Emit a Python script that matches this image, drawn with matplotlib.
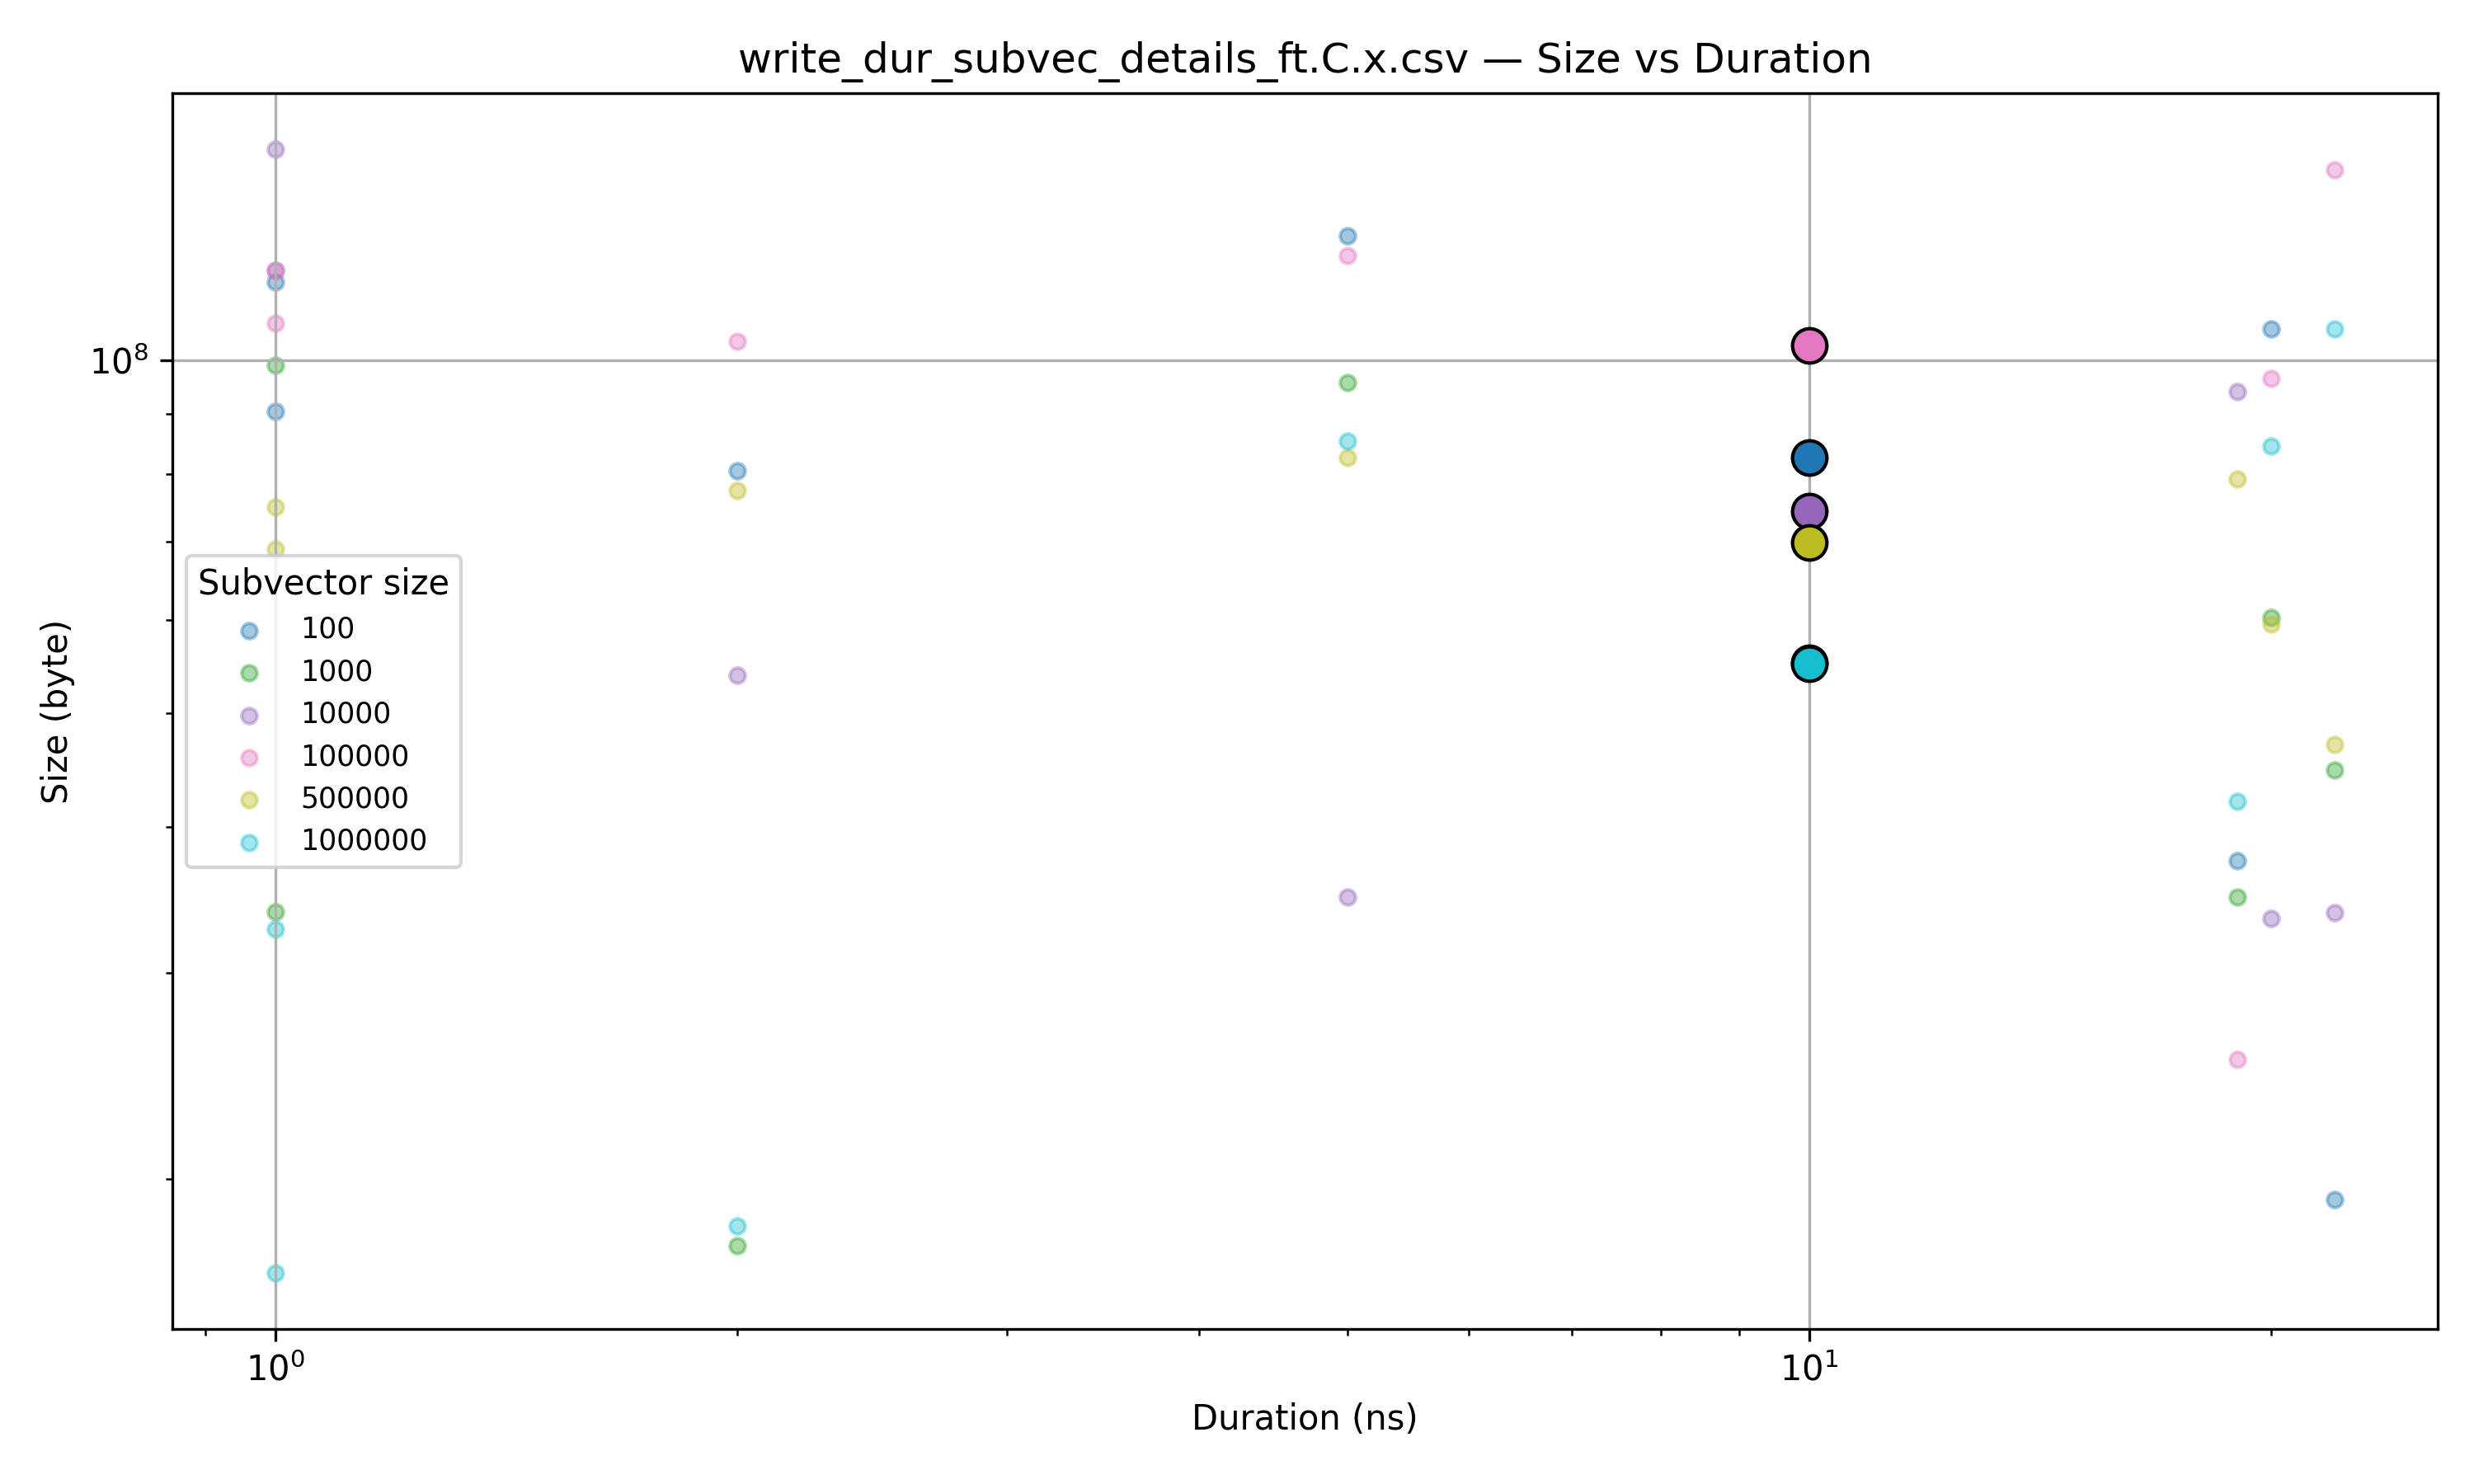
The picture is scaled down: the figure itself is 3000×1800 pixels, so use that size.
import numpy as np
import matplotlib

matplotlib.use('Agg')

import matplotlib.pyplot as plt

# durations (ns) are the same for every subvector size
duration = [1, 1, 2, 5, 19, 20, 22]

labels = ["100", "1000", "10000", "100000", "500000", "1000000"]

size_100 = [1.167e8, 0.905e8, 0.805e8, 1.2777e8, 0.3739e8, 1.0629e8, 0.1921e8]
size_1000 = [0.991e8, 0.3383e8, 0.1754e8, 0.9576e8, 0.3481e8, 0.6028e8, 0.4467e8]
size_10000 = [1.514e8, 1.194e8, 0.5389e8, 0.3485e8, 0.9409e8, 0.3338e8, 0.3379e8]
size_100000 = [1.194e8, 1.076e8, 1.038e8, 1.2283e8, 0.2531e8, 0.9645e8, 1.4546e8]
size_500000 = [0.749e8, 0.690e8, 0.7737e8, 0.8263e8, 0.7925e8, 0.5954e8, 0.4697e8]
size_1000000 = [0.3267e8, 0.1663e8, 0.1825e8, 0.8539e8, 0.4202e8, 0.8455e8, 1.0629e8]

sizes = [size_100, size_1000, size_10000, size_100000, size_500000, size_1000000]


def plot_size_vs_duration():
    fig = plt.figure(figsize=(10, 6), dpi=300)
    ax = fig.add_subplot(1, 1, 1)
    colors = plt.cm.tab10(np.linspace(0, 1, len(labels)))

    for lab, ys, c in zip(labels, sizes, colors):
        ax.scatter(duration, ys, s=20, color=c, alpha=0.4, label=lab)

    # group means
    for ys, c in zip(sizes, colors):
        ax.scatter(np.mean(duration), np.mean(ys), s=100, color=c,
                   edgecolors="black", linewidths=1, zorder=3)

    ax.set_xscale("log")
    ax.set_yscale("log")
    ax.grid(True)
    ax.set_title("write_dur_subvec_details_ft.C.x.csv \u2014 Size vs Duration")
    ax.set_xlabel("Duration (ns)")
    ax.set_ylabel("Size (byte)")
    ax.legend(title="Subvector size", fontsize="small", loc="center left")

    fig.subplots_adjust(left=0.0697, right=0.9853, top=0.9372, bottom=0.1043)
    fig.savefig("out.png")


plot_size_vs_duration()
